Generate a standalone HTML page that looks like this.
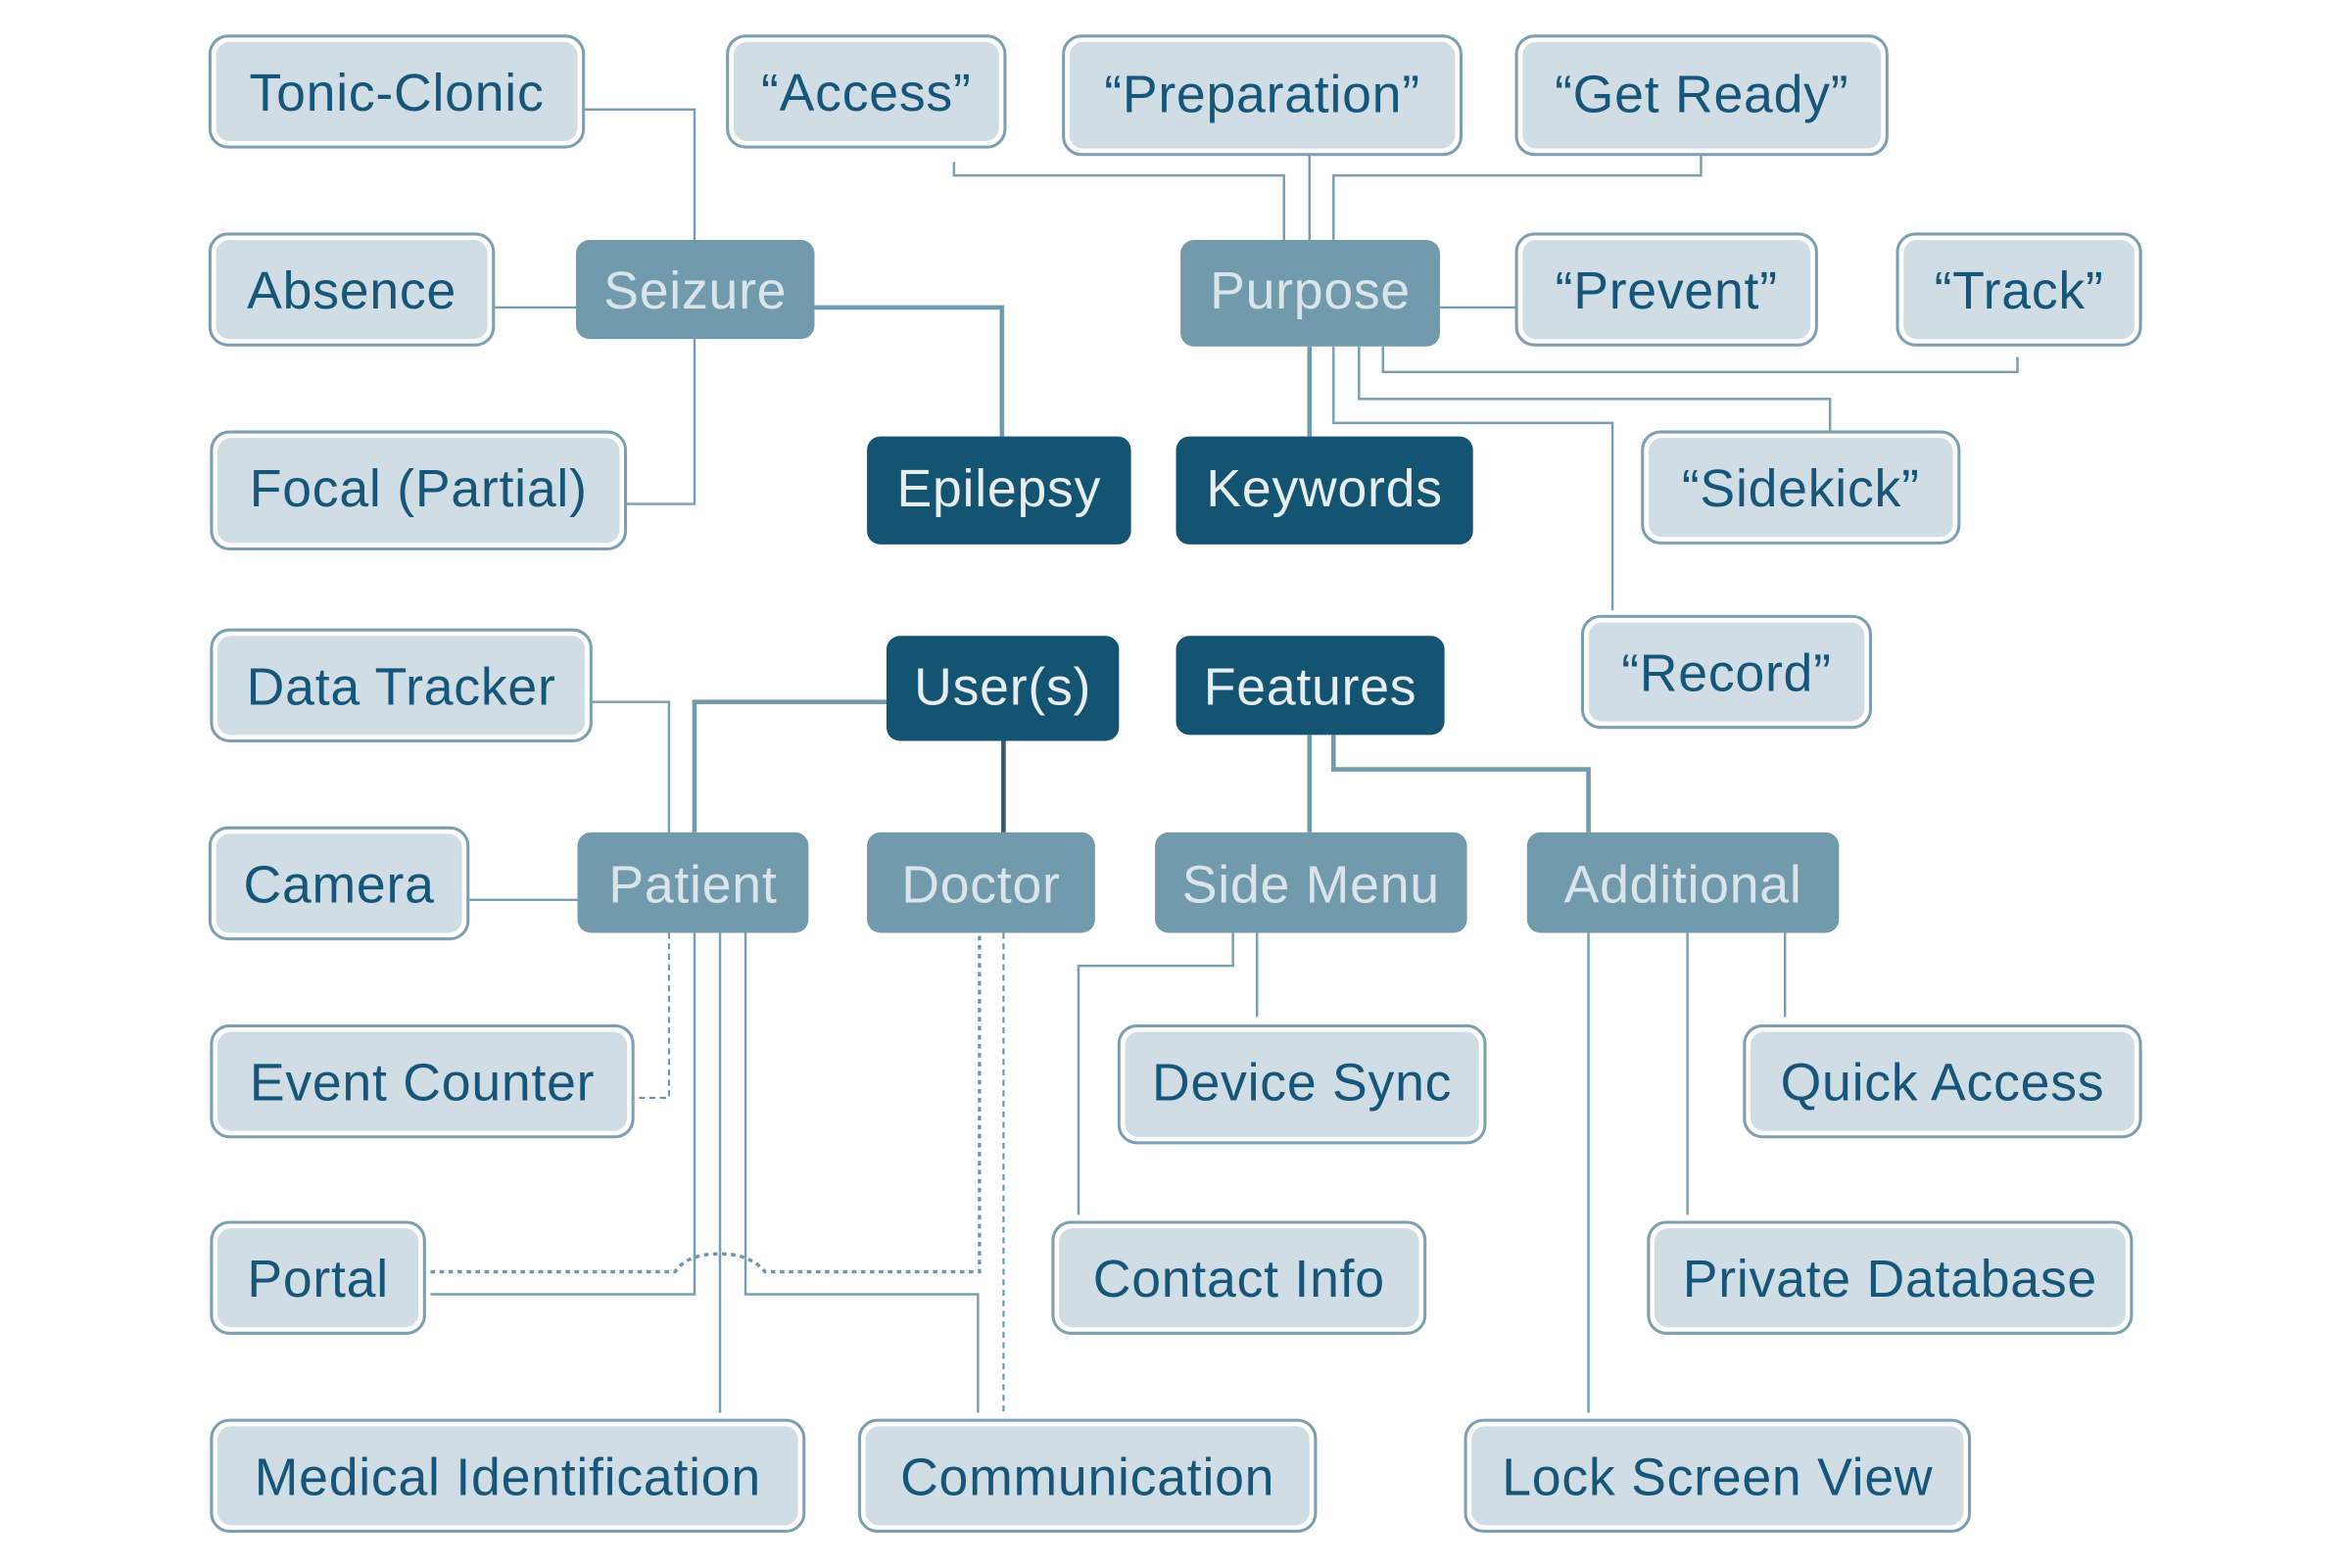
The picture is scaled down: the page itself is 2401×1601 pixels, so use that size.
<!DOCTYPE html>
<html><head><meta charset="utf-8"><style>
html,body{margin:0;padding:0;background:#fff}
svg{display:block}
text{font-family:"Liberation Sans",sans-serif;font-size:35px;letter-spacing:0.5px;text-anchor:middle;dominant-baseline:central}
.l rect.o{fill:none;stroke:#7d9fb0;stroke-width:2}
.l rect.i{fill:#d1dde5;stroke:#fff;stroke-width:2}
.l text{fill:#15567a}
.m rect{fill:#729aad}
.m text{fill:#dae4ea}
.d rect{fill:#135472}
.d text{fill:#e8eef0}
.c{fill:none;stroke:#789fb1;stroke-width:1.6}
.t{fill:none;stroke:#729aad;stroke-width:3}
.ds{fill:none;stroke:#6f95a8;stroke-width:1.4;stroke-dasharray:4 3}
.dt{fill:none;stroke:#6f95a8;stroke-width:2.2;stroke-dasharray:3 3}
</style></head><body>
<svg width="2401" height="1601" viewBox="0 0 1568 1045.5" xmlns="http://www.w3.org/2000/svg">
<path class="c" d="M389 73H463V160"/>
<path class="c" d="M329 205H384"/>
<path class="c" d="M417 336H463V226"/>
<path class="t" d="M543 205H668V291"/>
<path class="c" d="M636 108V117H856V160"/>
<path class="c" d="M873 103V160"/>
<path class="c" d="M1134 103V117H889V160"/>
<path class="c" d="M960 205H1011"/>
<path class="c" d="M1345 238V248H922V231"/>
<path class="c" d="M1220 288V266H906V231"/>
<path class="c" d="M1075 407V282H889V231"/>
<path class="t" d="M873 231V291"/>
<path class="c" d="M394 468H446V555"/>
<path class="t" d="M591 468H463V555"/>
<path d="M669 494V555" fill="none" stroke="#3a5668" stroke-width="3"/>
<path class="t" d="M873 490V555"/>
<path class="t" d="M889 490V513H1059V555"/>
<path class="c" d="M312 600H385"/>
<path class="ds" d="M446 622V732H422"/>
<path class="c" d="M463 622V863H287"/>
<path class="c" d="M480 622V942"/>
<path class="c" d="M497 622V863H652V942"/>
<path class="dt" d="M287 848H450Q458 836 480 836Q500 836 510 848H653V622"/>
<path class="ds" d="M669 622V942"/>
<path class="c" d="M822 622V644H719V810"/>
<path class="c" d="M838 622V678"/>
<path class="c" d="M1059 622V942"/>
<path class="c" d="M1125 622V810"/>
<path class="c" d="M1190 622V678"/>

<g class="l">
<g><rect class="o" x="140" y="24" width="249" height="74" rx="12"/><rect class="i" x="143" y="27" width="243" height="68" rx="10"/><text x="264.5" y="62">Tonic-Clonic</text></g>
<g><rect class="o" x="485" y="24" width="185" height="74" rx="12"/><rect class="i" x="488" y="27" width="179" height="68" rx="10"/><text x="577.5" y="62">“Access”</text></g>
<g><rect class="o" x="709" y="24" width="265" height="79" rx="12"/><rect class="i" x="712" y="27" width="259" height="73" rx="10"/><text x="841.5" y="63">“Preparation”</text></g>
<g><rect class="o" x="1011" y="24" width="247" height="79" rx="12"/><rect class="i" x="1014" y="27" width="241" height="73" rx="10"/><text x="1134.5" y="63">“Get Ready”</text></g>
<g><rect class="o" x="140" y="156" width="189" height="74" rx="12"/><rect class="i" x="143" y="159" width="183" height="68" rx="10"/><text x="234.5" y="194">Absence</text></g>
<g><rect class="o" x="1011" y="156" width="200" height="74" rx="12"/><rect class="i" x="1014" y="159" width="194" height="68" rx="10"/><text x="1111" y="194">“Prevent”</text></g>
<g><rect class="o" x="1265" y="156" width="162" height="74" rx="12"/><rect class="i" x="1268" y="159" width="156" height="68" rx="10"/><text x="1346" y="194">“Track”</text></g>
<g><rect class="o" x="141" y="288" width="276" height="78" rx="12"/><rect class="i" x="144" y="291" width="270" height="72" rx="10"/><text x="279" y="326">Focal (Partial)</text></g>
<g><rect class="o" x="1095" y="288" width="211" height="74" rx="12"/><rect class="i" x="1098" y="291" width="205" height="68" rx="10"/><text x="1200.5" y="326">“Sidekick”</text></g>
<g><rect class="o" x="1055" y="411" width="192" height="74" rx="12"/><rect class="i" x="1058" y="414" width="186" height="68" rx="10"/><text x="1151" y="449">“Record”</text></g>
<g><rect class="o" x="141" y="420" width="253" height="74" rx="12"/><rect class="i" x="144" y="423" width="247" height="68" rx="10"/><text x="267.5" y="458">Data Tracker</text></g>
<g><rect class="o" x="140" y="552" width="172" height="74" rx="12"/><rect class="i" x="143" y="555" width="166" height="68" rx="10"/><text x="226" y="590">Camera</text></g>
<g><rect class="o" x="141" y="684" width="281" height="74" rx="12"/><rect class="i" x="144" y="687" width="275" height="68" rx="10"/><text x="281.5" y="722">Event Counter</text></g>
<g><rect class="o" x="746" y="684" width="244" height="78" rx="12"/><rect class="i" x="749" y="687" width="238" height="72" rx="10"/><text x="868" y="722">Device Sync</text></g>
<g><rect class="o" x="1163" y="684" width="264" height="74" rx="12"/><rect class="i" x="1166" y="687" width="258" height="68" rx="10"/><text x="1295" y="722">Quick Access</text></g>
<g><rect class="o" x="141" y="815" width="142" height="74" rx="12"/><rect class="i" x="144" y="818" width="136" height="68" rx="10"/><text x="212" y="853">Portal</text></g>
<g><rect class="o" x="702" y="815" width="248" height="74" rx="12"/><rect class="i" x="705" y="818" width="242" height="68" rx="10"/><text x="826" y="853">Contact Info</text></g>
<g><rect class="o" x="1099" y="815" width="322" height="74" rx="12"/><rect class="i" x="1102" y="818" width="316" height="68" rx="10"/><text x="1260" y="853">Private Database</text></g>
<g><rect class="o" x="141" y="947" width="395" height="74" rx="12"/><rect class="i" x="144" y="950" width="389" height="68" rx="10"/><text x="338.5" y="985">Medical Identification</text></g>
<g><rect class="o" x="573" y="947" width="304" height="74" rx="12"/><rect class="i" x="576" y="950" width="298" height="68" rx="10"/><text x="725" y="985">Communication</text></g>
<g><rect class="o" x="977" y="947" width="336" height="74" rx="12"/><rect class="i" x="980" y="950" width="330" height="68" rx="10"/><text x="1145" y="985">Lock Screen View</text></g>
</g>

<g class="m">
<g><rect x="384" y="160" width="159" height="66" rx="9"/><text x="463.5" y="194">Seizure</text></g>
<g><rect x="787" y="160" width="173" height="71" rx="9"/><text x="873.5" y="194">Purpose</text></g>
<g><rect x="385" y="555" width="154" height="67" rx="9"/><text x="462" y="590">Patient</text></g>
<g><rect x="578" y="555" width="152" height="67" rx="9"/><text x="654" y="590">Doctor</text></g>
<g><rect x="770" y="555" width="208" height="67" rx="9"/><text x="874" y="590">Side Menu</text></g>
<g><rect x="1018" y="555" width="208" height="67" rx="9"/><text x="1122" y="590">Additional</text></g>
</g>

<g class="d">
<g><rect x="578" y="291" width="176" height="72" rx="9"/><text x="666" y="326">Epilepsy</text></g>
<g><rect x="784" y="291" width="198" height="72" rx="9"/><text x="883" y="326">Keywords</text></g>
<g><rect x="591" y="424" width="155" height="70" rx="9"/><text x="668.5" y="458">User(s)</text></g>
<g><rect x="784" y="424" width="179" height="66" rx="9"/><text x="873.5" y="458">Features</text></g>
</g>
</svg>
</body></html>
